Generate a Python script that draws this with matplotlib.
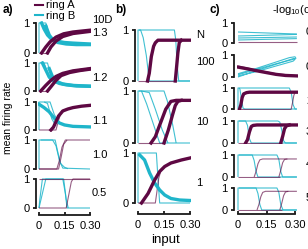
import matplotlib
matplotlib.use('Agg')
import matplotlib.pyplot as plt
from matplotlib.lines import Line2D

plt.rcParams['font.family'] = ['Liberation Sans', 'DejaVu Sans']
plt.rcParams['mathtext.fontset'] = 'custom'
plt.rcParams['mathtext.rm'] = 'Liberation Sans'

# ── data (input, mean firing rate) ───────────────────────────────────────────
# each row: thin traces and noisy traces for ring A (purple) / ring B (cyan)

A_LABELS = ['1.3', '1.2', '1.1', '1.0', '0.5']
B_LABELS = ['100', '10', '1']
C_LABELS = ['0', '0.5', '2', '3', '4', '5']

A13 = dict(
    cyan=[([0, 0, 0.04, 0.05], [0, 1, 1, 0.85])],
    cyan_noisy=[([0.015, 0.03, 0.05, 0.07, 0.1, 0.15, 0.2, 0.3], [1, 0.8, 0.6, 0.48, 0.4, 0.35, 0.33, 0.3]),
                ([0.04, 0.06, 0.08, 0.11, 0.16, 0.22, 0.3], [0.9, 0.6, 0.45, 0.35, 0.3, 0.28, 0.28])],
    purple=[([0, 0.05], [0, 0])],
    purple_noisy=[([0.015, 0.04, 0.065, 0.1, 0.145, 0.2, 0.3], [0, 0.2, 0.37, 0.53, 0.64, 0.7, 0.76]),
                  ([0.05, 0.07, 0.1, 0.14, 0.2, 0.3], [0, 0.2, 0.4, 0.55, 0.65, 0.72])],
)
A12 = dict(
    cyan=[([0, 0, 0.03, 0.06, 0.08], [0, 1, 1, 0.45, 0.35]),
          ([0.01, 0.05, 0.07, 0.09], [1, 1, 0.55, 0.4])],
    cyan_noisy=[([0.02, 0.04, 0.06, 0.09, 0.12, 0.16, 0.22, 0.3], [1, 0.75, 0.5, 0.35, 0.27, 0.22, 0.18, 0.17]),
                ([0.06, 0.08, 0.1, 0.14, 0.2, 0.3], [0.8, 0.5, 0.35, 0.25, 0.2, 0.17])],
    purple=[([0, 0.05], [0, 0])],
    purple_noisy=[([0.01, 0.04, 0.07, 0.1, 0.14, 0.2, 0.3], [0, 0.2, 0.38, 0.52, 0.63, 0.72, 0.8]),
                  ([0.05, 0.07, 0.1, 0.13, 0.18, 0.24, 0.3], [0, 0.15, 0.38, 0.55, 0.66, 0.73, 0.78])],
)
A11 = dict(
    cyan=[([0, 0, 0.065, 0.09, 0.12], [0, 1, 1, 0.55, 0.25]),
          ([0.03, 0.05, 0.075, 0.1], [1, 0.95, 0.4, 0.15])],
    cyan_noisy=[([0, 0.03, 0.06, 0.09, 0.12, 0.15, 0.2, 0.3], [0.92, 0.8, 0.65, 0.42, 0.25, 0.18, 0.13, 0.11])],
    purple=[([0, 0.1, 0.115, 0.135], [0, 0, 0.35, 0.7])],
    purple_noisy=[([0.07, 0.085, 0.1, 0.115, 0.14, 0.17, 0.2, 0.25, 0.3], [0, 0.1, 0.3, 0.5, 0.68, 0.75, 0.8, 0.85, 0.88])],
)
A10 = dict(
    cyan=[([0, 0, 0.08, 0.1, 0.12, 0.14, 0.3], [0, 1, 1, 0.8, 0.3, 0.03, 0]),
          ([0.01, 0.095, 0.11, 0.125, 0.15, 0.17], [1, 1, 0.6, 0.2, 0.06, 0.01])],
    cyan_noisy=[],
    purple=[([0, 0.105, 0.12, 0.135, 0.155, 0.3], [0, 0, 0.3, 0.75, 1, 1]),
            ([0, 0.115, 0.13, 0.145, 0.165], [0, 0, 0.4, 0.85, 1])],
    purple_noisy=[],
)
A05 = dict(
    cyan=[([0, 0.005, 0.02, 0.14, 0.155, 0.165, 0.3], [0, 0.3, 1, 1, 0.5, 0, 0]),
          ([0, 0.02, 0.04, 0.145, 0.16, 0.172], [0, 0.5, 1, 1, 0.3, 0])],
    cyan_noisy=[],
    purple=[([0, 0.3], [1, 1]),
            ([0, 0.16, 0.175, 0.19, 0.2, 0.3], [0, 0, 0.45, 0.9, 1, 1])],
    purple_noisy=[],
)

B100 = dict(
    cyan=[([0, 0, 0.015, 0.03, 0.048, 0.06, 0.067, 0.3], [0, 1, 1, 0.85, 0.5, 0.15, 0, 0]),
          ([0.005, 0.21, 0.218, 0.226, 0.235, 0.3], [1, 1, 0.8, 0.3, 0, 0])],
    cyan_noisy=[],
    purple=[([0, 0.22], [0, 0])],
    purple_noisy=[([0.055, 0.065, 0.077, 0.09, 0.1, 0.115, 0.3], [0, 0.15, 0.48, 0.68, 0.75, 0.8, 0.8]),
                  ([0.215, 0.222, 0.23, 0.238, 0.25], [0, 0.25, 0.55, 0.75, 0.8])],
)
B10 = dict(
    cyan=[([0, 0, 0.02, 0.05, 0.08, 0.11, 0.125, 0.3], [0, 1, 1, 0.75, 0.45, 0.15, 0, 0]),
          ([0.02, 0.065, 0.1, 0.14, 0.173], [1, 0.97, 0.65, 0.25, 0]),
          ([0.005, 0.15, 0.17, 0.2, 0.22], [1, 1, 0.8, 0.35, 0])],
    cyan_noisy=[],
    purple=[([0, 0.155], [0, 0])],
    purple_noisy=[([0.075, 0.1, 0.12, 0.135, 0.16, 0.19, 0.22, 0.3], [0, 0.12, 0.3, 0.43, 0.65, 0.8, 0.82, 0.82]),
                  ([0.15, 0.175, 0.2, 0.215, 0.23, 0.25], [0, 0.25, 0.55, 0.72, 0.8, 0.82])],
)
B1 = dict(
    cyan=[([0, 0, 0.106, 0.115, 0.125, 0.3], [0, 1, 1, 0.5, 0, 0])],
    cyan_noisy=[([0.01, 0.038, 0.067, 0.096, 0.125, 0.154, 0.19, 0.24, 0.3], [0.96, 0.86, 0.6, 0.4, 0.26, 0.16, 0.09, 0.06, 0.05])],
    purple=[([0, 0.1, 0.11, 0.12, 0.13], [0, 0, 0.25, 0.5, 0.62])],
    purple_noisy=[([0.02, 0.058, 0.096, 0.125, 0.154, 0.19, 0.25, 0.3], [0, 0.19, 0.46, 0.63, 0.73, 0.8, 0.86, 0.9])],
)

C1 = dict(
    cyan=[([0, 0.31], [0.55, 0.45]), ([0, 0.31], [0.35, 0.43]),
          ([0, 0.31], [0.25, 0.3]), ([0, 0.31], [0.15, 0.22])],
    cyan_noisy=[],
    purple=[([0, 0.31], [0.04, 0.04])],
    purple_noisy=[],
)
C2 = dict(
    cyan=[([0, 0.1, 0.2, 0.27, 0.295, 0.3, 0.29, 0.2, 0.1, 0], [0.0, 0.3, 0.58, 0.78, 0.85, 0.8, 0.72, 0.5, 0.25, 0.05]),
          ([0, 0.1, 0.2, 0.27, 0.3, 0.305, 0.29, 0.2, 0.1, 0], [0.15, 0.4, 0.68, 0.88, 0.92, 0.85, 0.8, 0.6, 0.35, 0.1])],
    cyan_noisy=[],
    purple=[([0, 0.1, 0.2, 0.31], [0.5, 0.32, 0.15, 0.06])],
    purple_noisy=[([0, 0.05, 0.1, 0.15, 0.2, 0.25, 0.31], [0.45, 0.37, 0.28, 0.2, 0.12, 0.07, 0.05])],
)
C3 = dict(
    cyan=[([0, 0, 0.005, 0.27, 0.28, 0.29, 0.3, 0.31], [0, 1, 1, 1, 0.8, 0.2, 0, 0]),
          ([0.005, 0.01, 0.018, 0.026, 0.035, 0.31], [1, 0.95, 0.5, 0.05, 0, 0])],
    cyan_noisy=[],
    purple=[([0, 0.28], [0, 0]),
            ([0.28, 0.287, 0.294, 0.3, 0.31], [0, 0.3, 0.65, 0.78, 0.8])],
    purple_noisy=[([0.008, 0.015, 0.022, 0.03, 0.045, 0.06, 0.31], [0, 0.2, 0.55, 0.72, 0.78, 0.8, 0.8])],
)
C4 = dict(
    cyan=[([0, 0, 0.04, 0.05, 0.06, 0.07, 0.31], [0, 1, 1, 0.8, 0.2, 0, 0]),
          ([0.005, 0.21, 0.22, 0.23, 0.24, 0.25, 0.31], [1, 1, 0.95, 0.6, 0.1, 0, 0])],
    cyan_noisy=[],
    purple=[([0, 0.23], [0, 0])],
    purple_noisy=[([0.04, 0.05, 0.06, 0.07, 0.08, 0.1, 0.31], [0, 0.15, 0.5, 0.75, 0.8, 0.82, 0.82]),
                  ([0.225, 0.235, 0.245, 0.255, 0.27], [0, 0.3, 0.65, 0.78, 0.82])],
)
C5 = dict(
    cyan=[([0, 0, 0.075, 0.085, 0.095, 0.105, 0.31], [0, 1, 1, 0.75, 0.25, 0, 0]),
          ([0.005, 0.205, 0.215, 0.225, 0.235, 0.31], [1, 1, 0.8, 0.25, 0, 0])],
    cyan_noisy=[],
    purple=[([0, 0.22], [0, 0]),
            ([0.085, 0.095, 0.105, 0.115, 0.13, 0.31], [0, 0.25, 0.6, 0.78, 0.82, 0.82]),
            ([0.215, 0.225, 0.235, 0.245, 0.26], [0, 0.3, 0.65, 0.8, 0.82])],
    purple_noisy=[],
)
C6 = dict(
    cyan=[([0, 0, 0.095, 0.105, 0.115, 0.125, 0.31], [0, 1, 1, 0.75, 0.25, 0, 0]),
          ([0.005, 0.205, 0.215, 0.225, 0.237, 0.31], [1, 1, 0.8, 0.25, 0, 0])],
    cyan_noisy=[],
    purple=[([0, 0.23], [0, 0]),
            ([0.1, 0.11, 0.12, 0.13, 0.145, 0.31], [0, 0.25, 0.6, 0.8, 0.85, 0.85]),
            ([0.22, 0.23, 0.24, 0.25, 0.265], [0, 0.3, 0.65, 0.82, 0.85])],
    purple_noisy=[],
)

X_TICKS = [0, 0.15, 0.30]
X_TICKLABELS = ['0', '0.15', '0.30']

# ── layout (pixels) ──────────────────────────────────────────────────────────
W, H = 308, 249
PURPLE = '#5e0843'
CYAN = '#1fb5ca'
INK = '#1a1a1a'
FS = 8

fig = plt.figure(figsize=(W / 100, H / 100), dpi=100)


def add_row(x0, x1, xhi, y1, y0, spine_px, bottom_px=None):
    """x0/x1: px of data 0 / 0.3, y1/y0: px of data 1 / 0."""
    sx = (x1 - x0) / 0.3
    xlo = -0.004
    left = x0 + xlo * sx
    right = x0 + xhi * sx
    sy = y0 - y1
    top = y1 - 0.06 * sy
    bot = y0 + 0.06 * sy
    ax = fig.add_axes([left / W, 1 - bot / H, (right - left) / W, (bot - top) / H])
    ax.set_xlim(xlo, xhi)
    ax.set_ylim(-0.06, 1.06)
    ax.patch.set_visible(False)
    for s in ('top', 'right'):
        ax.spines[s].set_visible(False)
    ax.spines['left'].set_position(('outward', (left - spine_px) * 0.72))
    ax.spines['left'].set_bounds(0, 1)
    ax.spines['left'].set_linewidth(1.3)
    ax.spines['left'].set_color(INK)
    ax.set_yticks([0, 1])
    ax.set_yticklabels(['0', '1'])
    ax.tick_params(axis='y', direction='out', length=2.5, width=1.3, color=INK,
                   pad=2, labelsize=FS)
    if bottom_px is None:
        ax.spines['bottom'].set_visible(False)
        ax.set_xticks([])
    else:
        ax.spines['bottom'].set_position(('outward', (bottom_px - bot) * 0.72))
        ax.spines['bottom'].set_bounds(0, 0.3)
        ax.spines['bottom'].set_linewidth(1.3)
        ax.spines['bottom'].set_color(INK)
        ax.set_xticks(X_TICKS)
        ax.set_xticklabels(X_TICKLABELS)
        ax.tick_params(axis='x', direction='in', length=2.5, width=1.3, color=INK,
                       pad=4, labelsize=FS)
    return ax


def draw(ax, d):
    for x, y in d['cyan']:
        ax.plot(x, y, color=CYAN, lw=0.8, alpha=0.85, solid_capstyle='butt')
    for x, y in d['purple']:
        ax.plot(x, y, color=PURPLE, lw=0.8, alpha=0.65, solid_capstyle='butt')
    for x, y in d['cyan_noisy']:
        ax.plot(x, y, color=CYAN, lw=2.4, solid_joinstyle='round')
    for x, y in d['purple_noisy']:
        ax.plot(x, y, color=PURPLE, lw=2.4, solid_joinstyle='round')


def txt(x, y, s, **kw):
    kw.setdefault('fontsize', FS)
    kw.setdefault('va', 'center')
    fig.text(x / W, 1 - y / H, s, **kw)


# panel a
A_ROWS = [(23, 53), (63, 91), (102, 130), (140, 169), (179, 208)]
A_LABEL_Y = [33, 78, 121, 155, 193]
for i, (d, (y1, y0)) in enumerate(zip([A13, A12, A11, A10, A05], A_ROWS)):
    ax = add_row(39, 90, 0.304, y1, y0, 36, 215 if i == 4 else None)
    draw(ax, d)
    txt(92, A_LABEL_Y[i], A_LABELS[i])

# panel b
B_ROWS = [(30, 81), (91, 143), (153, 203)]
B_LABEL_Y = [62, 122, 183]
for i, (d, (y1, y0)) in enumerate(zip([B100, B10, B1], B_ROWS)):
    ax = add_row(138, 190, 0.304, y1, y0, 135, 214 if i == 2 else None)
    draw(ax, d)
    txt(196, B_LABEL_Y[i], B_LABELS[i])

# panel c (its right-hand labels run off the edge, as in the original)
C_ROWS = [(23, 43), (55, 77), (88, 109), (121, 143), (155, 177), (188, 210)]
C_LABEL_Y = [32, 67, 101, 132, 164, 198]
for i, (d, (y1, y0)) in enumerate(zip([C1, C2, C3, C4, C5, C6], C_ROWS)):
    ax = add_row(238, 295, 0.315, y1, y0, 234, 214 if i == 5 else None)
    draw(ax, d)
    txt(306, C_LABEL_Y[i], C_LABELS[i])

# headers and labels
txt(3, 10, 'a)', fontweight='bold', fontsize=8.5)
txt(115, 10, 'b)', fontweight='bold', fontsize=8.5)
txt(210, 10, 'c)', fontweight='bold', fontsize=8.5)
txt(92, 20, '10D')
txt(196, 35, 'N')
txt(272, 10, r'-log$_{10}$(c)')
txt(8, 118, 'mean firing rate', rotation=90, ha='center', fontsize=7.5)
txt(165, 240, 'input', ha='center', fontsize=9.5)

handles = [Line2D([], [], color=PURPLE, lw=1.5, label='ring A'),
           Line2D([], [], color=CYAN, lw=1.5, label='ring B')]
fig.legend(handles=handles, loc='upper left', bbox_to_anchor=(35 / W, 1 - 0.5 / H),
           frameon=False, fontsize=FS, handlelength=0.7, handletextpad=0.3,
           labelspacing=0.05, borderpad=0, borderaxespad=0)

fig.savefig('out.png', dpi=100)
